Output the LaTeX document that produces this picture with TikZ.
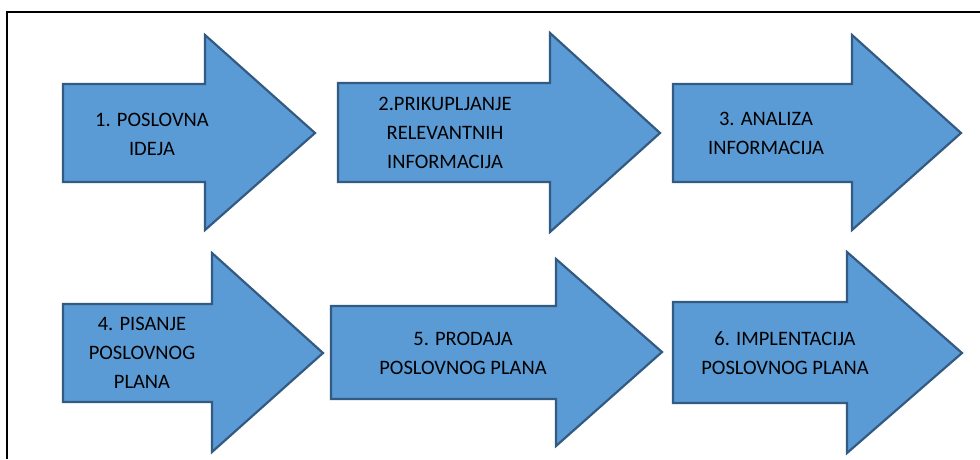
\documentclass[tikz,border=0pt]{standalone}
\usepackage{fontspec}
\setmainfont{Carlito}
\usepackage{tikz}
\usepackage{xcolor}
\definecolor{arrowfill}{RGB}{91,155,213}
\definecolor{arrowline}{RGB}{50,90,130}

\begin{document}
\begin{tikzpicture}[x=1pt, y=-1pt,
            arrowshape/.style = {fill=arrowfill, draw=arrowline, line width=2.2pt, line join=miter},
            steptext/.style = {align=center, inner sep=0pt, font=\fontsize{20.5}{29}\selectfont}
            ]
            \useasboundingbox (0,0) rectangle (980,459);
            \draw[line width=2pt] (7,459) -- (7,12) -- (980,12);

            \draw[arrowshape] (63,84) -- (205,84) -- (205,35) -- (315,133) -- (205,230) -- (205,182) -- (63,182) -- cycle;
            \draw[arrowshape] (338,83) -- (550,83) -- (550,33) -- (660,133) -- (550,232) -- (550,182) -- (338,182) -- cycle;
            \draw[arrowshape] (673,84) -- (852,84) -- (852,35) -- (961,133) -- (852,230) -- (852,182) -- (673,182) -- cycle;
            \draw[arrowshape] (63,304) -- (212,304) -- (212,253) -- (323,353) -- (212,452) -- (212,402) -- (63,402) -- cycle;
            \draw[arrowshape] (331,306) -- (556,306) -- (556,259) -- (662,352) -- (556,446) -- (556,399) -- (331,399) -- cycle;
            \draw[arrowshape] (673,302) -- (847,302) -- (847,252) -- (962,353) -- (847,453) -- (847,403) -- (673,403) -- cycle;

            \node[steptext] (ideja) at (152,134) {1. POSLOVNA\\IDEJA};
            \node[steptext] (prikupljanje) at (445,133) {2.PRIKUPLJANJE\\RELEVANTNIH\\INFORMACIJA};
            \node[steptext] (analiza) at (766,133) {3. ANALIZA\\INFORMACIJA};
            \node[steptext] (pisanje) at (142,353) {4. PISANJE\\POSLOVNOG\\PLANA};
            \node[steptext] (prodaja) at (463,353) {5. PRODAJA\\POSLOVNOG PLANA};
            \node[steptext] (implentacija) at (785,353) {6. IMPLENTACIJA\\POSLOVNOG PLANA};
        \end{tikzpicture}
\end{document}
